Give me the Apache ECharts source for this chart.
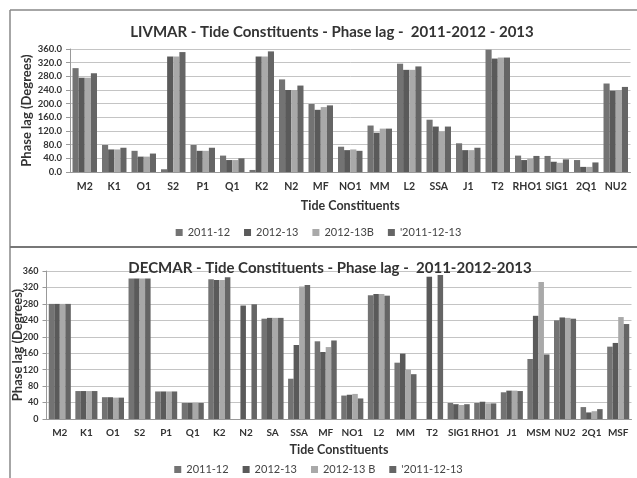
<!DOCTYPE html>
<html><head><meta charset="utf-8">
<script src="https://cdn.jsdelivr.net/npm/echarts@6/dist/echarts.min.js"></script>
<style>html,body{margin:0;padding:0;background:#fff}#c{width:637px;height:478px}</style>
</head><body><div id="c"></div>
<script>
var seriesNames = ["2011-12", "2012-13", "2012-13B", "'2011-12-13"];
var seriesNamesB = ["2011-12", "2012-13", "2012-13 B", "'2011-12-13"];
var colors = ["#737373", "#5a5a5a", "#a9a9a9", "#656565"];

var catsTop = ["M2","K1","O1","S2","P1","Q1","K2","N2","MF","NO1","MM","L2","SSA","J1","T2","RHO1","SIG1","2Q1","NU2"];
var top_2011_12 = [304,79,62,8,79,48,6,271,199,74,136,317,153,84,358,48,47,35,259];
var top_2012_13 = [276,66,45,338,62,35,338,240,182,64,115,299,133,64,332,35,30,15,238];
var top_2012_13B = [276,66,45,338,62,35,338,240,190,66,127,299,119,64,335,39,27,15,240];
var top_2011_12_13 = [289,71,54,351,71,40,353,253,195,62,127,309,133,71,335,47,37,28,249];

var catsBot = ["M2","K1","O1","S2","P1","Q1","K2","N2","SA","SSA","MF","NO1","L2","MM","T2","SIG1","RHO1","J1","MSM","NU2","2Q1","MSF"];
var bot_2011_12 = [280,68,53,342,67,39,340,0,244,98,189,57,301,137,0,39,39,65,146,240,29,176];
var bot_2012_13 = [280,68,53,342,67,39,338,276,246,180,163,59,304,159,346,36,42,69,251,247,16,185];
var bot_2012_13B = [280,68,52,342,67,39,338,0,246,322,175,61,304,120,0,34,38,69,333,246,19,248];
var bot_2011_12_13 = [280,68,52,342,67,39,345,279,246,326,191,50,300,109,350,36,38,68,157,244,24,231];

var FONT = "Lato";

var chart = echarts.init(document.getElementById('c'), null, {renderer:'canvas'});
function mkSeries(data, name, color, xi){
  return {type:'bar', name:name, data:data, xAxisIndex:xi, yAxisIndex:xi,
    itemStyle:{color:color}, barGap:'0%', barCategoryGap:'17%', animation:false};
}
var axisLbl = {fontFamily:FONT, fontWeight:'bold', color:'#333', fontSize:10.5};
var option = {
  animation:false,
  textStyle:{fontFamily:FONT},
  title:[
    {text:"LIVMAR - Tide Constituents - Phase lag -  2011-2012 - 2013", left:327, top:20, textAlign:'center',
     textStyle:{fontFamily:FONT, fontWeight:'bold', fontSize:15, color:'#333'}},
    {text:"DECMAR - Tide Constituents - Phase lag -  2011-2012-2013", left:325, top:256, textAlign:'center',
     textStyle:{fontFamily:FONT, fontWeight:'bold', fontSize:15, color:'#333'}}
  ],
  legend:[
    {data:seriesNames, top:222, left:'center', itemWidth:7, itemHeight:7, itemGap:14, icon:'rect',
     textStyle:{fontFamily:FONT, fontSize:11, color:'#444'}, selectedMode:false},
    {data:seriesNamesB, top:459, left:'center', itemWidth:7, itemHeight:7, itemGap:14, icon:'rect',
     textStyle:{fontFamily:FONT, fontSize:11, color:'#444'}, selectedMode:false}
  ],
  grid:[
    {left:70, right:6.5, top:49, height:123, outerBoundsMode:'none'},
    {left:46.5, right:5.5, top:271, height:148, outerBoundsMode:'none'}
  ],
  xAxis:[
    {type:'category', gridIndex:0, data:catsTop, name:'Tide Constituents', nameLocation:'middle', nameGap:27,
     nameTextStyle:{fontFamily:FONT, fontWeight:'bold', fontSize:12.5, color:'#333'},
     axisLine:{lineStyle:{color:'#999'}}, axisTick:{lineStyle:{color:'#999'}, length:4},
     axisLabel:Object.assign({margin:9, interval:0}, axisLbl)},
    {type:'category', gridIndex:1, data:catsBot, name:'Tide Constituents', nameLocation:'middle', nameGap:24,
     nameTextStyle:{fontFamily:FONT, fontWeight:'bold', fontSize:12.5, color:'#333'},
     axisLine:{lineStyle:{color:'#999'}}, axisTick:{lineStyle:{color:'#999'}, length:4},
     axisLabel:Object.assign({margin:9, interval:0}, axisLbl, {fontSize:10})}
  ],
  yAxis:[
    {type:'value', gridIndex:0, min:0, max:360, interval:40, name:'Phase lag (Degrees)', nameLocation:'middle', nameGap:37,
     nameMoveOverlap:false,
     nameTextStyle:{fontFamily:FONT, fontWeight:'bold', fontSize:13, color:'#333'},
     axisLine:{show:true, lineStyle:{color:'#999'}}, axisTick:{show:true, length:4, lineStyle:{color:'#999'}},
     splitLine:{lineStyle:{color:'#c4c4c4'}},
     axisLabel:Object.assign({margin:8, formatter:function(v){return v.toFixed(1);}}, axisLbl, {fontSize:9.5})},
    {type:'value', gridIndex:1, min:0, max:360, interval:40, name:'Phase lag (Degrees)', nameLocation:'middle', nameGap:22,
     nameMoveOverlap:false,
     nameTextStyle:{fontFamily:FONT, fontWeight:'bold', fontSize:13, color:'#333'},
     axisLine:{show:true, lineStyle:{color:'#999'}}, axisTick:{show:true, length:4, lineStyle:{color:'#999'}},
     splitLine:{lineStyle:{color:'#c4c4c4'}},
     axisLabel:Object.assign({margin:8}, axisLbl, {fontSize:9})}
  ],
  series:[
    mkSeries(top_2011_12, seriesNames[0], colors[0], 0),
    mkSeries(top_2012_13, seriesNames[1], colors[1], 0),
    mkSeries(top_2012_13B, seriesNames[2], colors[2], 0),
    mkSeries(top_2011_12_13, seriesNames[3], colors[3], 0),
    mkSeries(bot_2011_12, seriesNamesB[0], colors[0], 1),
    mkSeries(bot_2012_13, seriesNamesB[1], colors[1], 1),
    mkSeries(bot_2012_13B, seriesNamesB[2], colors[2], 1),
    mkSeries(bot_2011_12_13, seriesNamesB[3], colors[3], 1)
  ],
  graphic:[
    {type:'line', shape:{x1:10, y1:10, x2:637, y2:10}, style:{stroke:'#888', lineWidth:1.5}},
    {type:'line', shape:{x1:10, y1:10, x2:10, y2:478}, style:{stroke:'#888', lineWidth:1.5}},
    {type:'line', shape:{x1:10, y1:247, x2:637, y2:247}, style:{stroke:'#777', lineWidth:2}}
  ]
};
chart.setOption(option);
</script></body></html>
